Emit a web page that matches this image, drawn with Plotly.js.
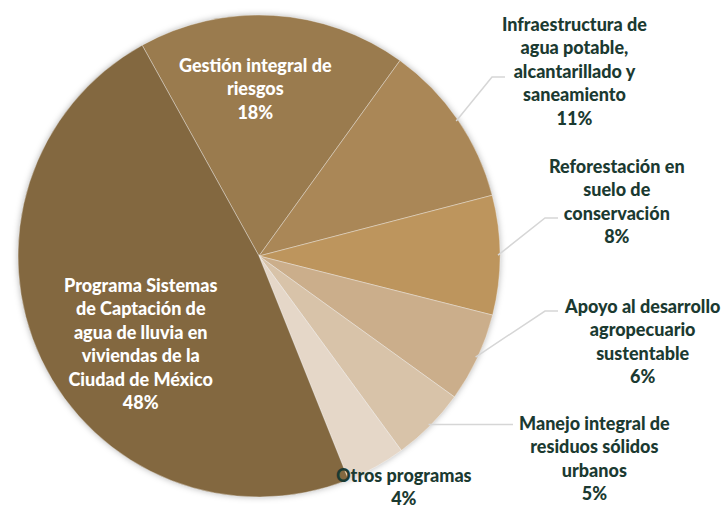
<!DOCTYPE html>
<html><head><meta charset="utf-8">
<script src="https://cdn.plot.ly/plotly-3.0.1.min.js"></script>
<style>
html,body{margin:0;padding:0;background:#fff}
#chart{width:726px;height:508px}
.pielayer{filter:drop-shadow(0 0 3px rgba(0,0,0,0.28));}
</style>
</head><body><div id="chart"></div>
<script>
// ---- data ----
const categories = [
  "Gestión integral de riesgos",
  "Infraestructura de agua potable, alcantarillado y saneamiento",
  "Reforestación en suelo de conservación",
  "Apoyo al desarrollo agropecuario sustentable",
  "Manejo integral de residuos sólidos urbanos",
  "Otros programas",
  "Programa Sistemas de Captación de agua de lluvia en viviendas de la Ciudad de México"
];
const labelLines = [
  "Gestión integral de<br>riesgos",
  "Infraestructura de<br>agua potable,<br>alcantarillado y<br>saneamiento",
  "Reforestación en<br>suelo de<br>conservación",
  "Apoyo al desarrollo<br>agropecuario<br>sustentable",
  "Manejo integral de<br>residuos sólidos<br>urbanos",
  "Otros programas",
  "Programa Sistemas<br>de Captación de<br>agua de lluvia en<br>viviendas de la<br>Ciudad de México"
];
const values = [18, 11, 8, 6, 5, 4, 48];
const colors = ["#9a7b4e", "#aa8757", "#bd955d", "#cbae8b", "#d8c3a9", "#e5d7c8", "#836840"];

// ---- layout geometry (pixels) ----
const W = 726, H = 508;
const cx = 259, cy = 256, R = 241;
const rotation = -29;
const textColorIn = "#ffffff", textColorOut = "#1b3a31";
// label centres and leader elbows
const labelPos = [
  {x: 255, y: 88, inside: true},
  {x: 574, y: 71, elbow: [492, 77], end: [505, 77]},
  {x: 617, y: 201, elbow: [545, 218], end: [558, 218]},
  {x: 642, y: 341, elbow: [545, 311], end: [558, 311]},
  {x: 594, y: 458, elbow: null, end: [513, 426]},
  {x: 404, y: 486},
  {x: 140, y: 343, inside: true}
];

const px = x => x / W, py = y => 1 - y / H;
const total = values.reduce((a, b) => a + b, 0);

const trace = {
  type: "pie",
  labels: categories,
  values: values,
  sort: false,
  direction: "clockwise",
  rotation: rotation,
  marker: {colors: colors, line: {color: "rgba(255,255,255,0.35)", width: 1}},
  textinfo: "none",
  hoverinfo: "label+percent",
  domain: {x: [px(cx - R), px(cx + R)], y: [py(cy + R), py(cy - R)]},
  showlegend: false
};

const annotations = [], shapes = [];
let cum = 0;
values.forEach((v, i) => {
  const pct = Math.round(v / total * 100);
  const lp = labelPos[i];
  annotations.push({
    xref: "paper", yref: "paper", x: px(lp.x), y: py(lp.y),
    xanchor: "center", yanchor: "middle", showarrow: false, align: "center",
    text: labelLines[i] + "<br>" + pct + "%",
    font: {family: "Lato, sans-serif", size: 18, weight: 900, color: lp.inside ? textColorIn : textColorOut}
  });
  const mid = (rotation + (cum + v / 2) / total * 360) * Math.PI / 180;
  cum += v;
  if (lp.end) {
    const sx = cx + (R - 2) * Math.sin(mid), sy = cy - (R - 2) * Math.cos(mid);
    let path = "M" + px(sx) + "," + py(sy);
    if (lp.elbow) path += " L" + px(lp.elbow[0]) + "," + py(lp.elbow[1]);
    const ey = lp.elbow ? lp.end[1] : sy;
    path += " L" + px(lp.end[0]) + "," + py(ey);
    shapes.push({type: "path", xref: "paper", yref: "paper", path: path,
      line: {color: "#d6d6d6", width: 1.5}});
  }
});

const layout = {
  width: W, height: H,
  margin: {l: 0, r: 0, t: 0, b: 0},
  paper_bgcolor: "#ffffff",
  annotations: annotations,
  shapes: shapes
};
Plotly.newPlot("chart", [trace], layout, {displayModeBar: false, staticPlot: true});
</script>
</body></html>
